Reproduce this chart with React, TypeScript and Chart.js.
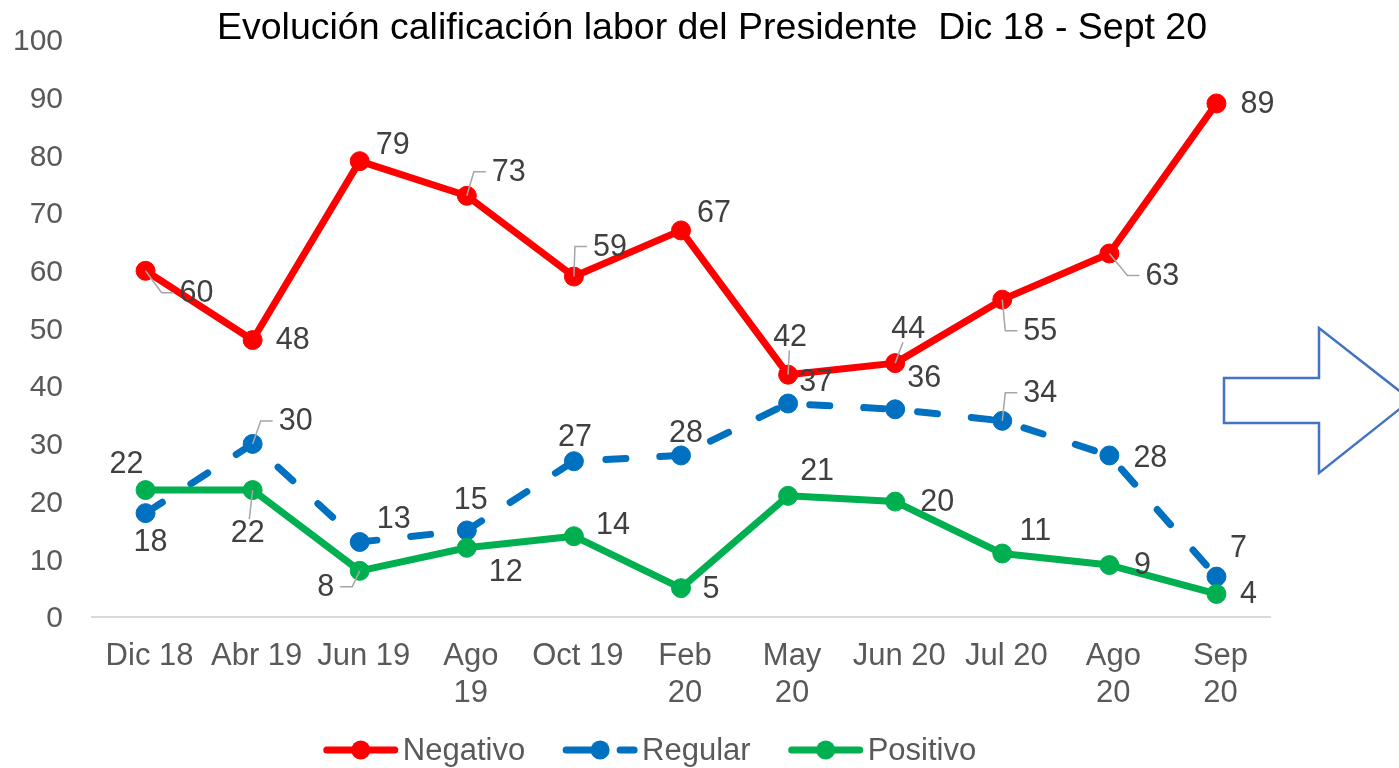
import React, { useEffect, useRef } from "react";
import { Chart, registerables } from "chart.js";

Chart.register(...registerables);

// ---------- data ----------
const CATEGORIES: (string | string[])[] = [
  "Dic 18",
  "Abr 19",
  "Jun 19",
  ["Ago", "19"],
  "Oct 19",
  ["Feb", "20"],
  ["May", "20"],
  "Jun 20",
  "Jul 20",
  ["Ago", "20"],
  ["Sep", "20"],
];
const NEGATIVO = [60, 48, 79, 73, 59, 67, 42, 44, 55, 63, 89];
const REGULAR = [18, 30, 13, 15, 27, 28, 37, 36, 34, 28, 7];
const POSITIVO = [22, 22, 8, 12, 14, 5, 21, 20, 11, 9, 4];
const SERIES_NAMES = ["Negativo", "Regular", "Positivo"];
const Y_MIN = 0;
const Y_MAX = 100;
const Y_STEP = 10;
const TITLE = "Evolución calificación labor del Presidente  Dic 18 - Sept 20";

// ---------- label placement (pixel offsets from the point, leader flag) ----------
const NEG_LABEL_POS = [[51, 22, 1], [40, 0, 0], [33, -17, 0], [42, -24, 1], [36, -30, 1], [33, -18, 0], [2, -38, 1], [13, -35, 1], [38, 31, 1], [53, 22, 1], [41, 0, 0]];
const REG_LABEL_POS = [[5, 28, 0], [43, -23, 1], [34, -23, 0], [4, -31, 0], [1, -25, 0], [5, -23, 0], [28, -22, 0], [29, -32, 0], [38, -28, 1], [41, 2, 0], [22, -29, 0]];
const POS_LABEL_POS = [[-19, -26, 0], [-5, 43, 1], [-34, 16, 1], [39, 24, 0], [39, -12, 0], [30, 0, 0], [29, -25, 0], [42, 0, 0], [33, -23, 0], [33, 0, 0], [32, 0, 0]];

// ---------- styles ----------
const RED = "#FF0000";
const BLUE = "#0070C0";
const GREEN = "#00B050";
const FONT = "'Liberation Sans', Arial, sans-serif";
const TICK_COLOR = "#595959";
const LABEL_COLOR = "#404040";
const LEADER_COLOR = "#A6A6A6";
const DASH = [20, 34];

const customPlugin = {
  id: "custom",
  afterDatasetsDraw(chart: any) {
    const ctx = chart.ctx;
    const placements = [NEG_LABEL_POS, REG_LABEL_POS, POS_LABEL_POS];
    ctx.save();
    ctx.font = `30.5px ${FONT}`;
    ctx.textAlign = "center";
    ctx.textBaseline = "middle";
    chart.data.datasets.forEach((ds: any, di: number) => {
      const meta = chart.getDatasetMeta(di);
      meta.data.forEach((pt: any, i: number) => {
        const [dx, dy, leader] = placements[di][i];
        const px = pt.x;
        const py = pt.y;
        const lx = px + dx;
        const ly = py + dy;
        const text = String(ds.data[i]);
        const tw = ctx.measureText(text).width;
        const th = 22;
        if (leader) {
          ctx.strokeStyle = LEADER_COLOR;
          ctx.lineWidth = 1.5;
          ctx.beginPath();
          ctx.moveTo(px, py);
          if (Math.abs(dx) > 25) {
            const side = dx > 0 ? -1 : 1;
            const edge = lx + side * (tw / 2 + 6);
            const corner = edge + side * 12;
            ctx.lineTo(corner, ly);
            ctx.lineTo(edge, ly);
          } else {
            const edgeY = ly - Math.sign(dy) * (th / 2 + 3);
            const t = (edgeY - py) / dy;
            ctx.lineTo(px + dx * t, edgeY);
          }
          ctx.stroke();
        }
        ctx.fillStyle = LABEL_COLOR;
        ctx.fillText(text, lx, ly + 1);
      });
    });
    ctx.restore();
  },
  afterDraw(chart: any) {
    const ctx = chart.ctx;
    ctx.save();
    // title
    ctx.font = `37.5px ${FONT}`;
    ctx.fillStyle = "#000000";
    ctx.textAlign = "center";
    ctx.textBaseline = "middle";
    ctx.fillText(TITLE, 712, 29);

    // legend
    ctx.font = `31px ${FONT}`;
    const lineW = 74;
    const gapText = 5;
    const gapItem = 38;
    const items = chart.data.datasets.map((ds: any) => ({
      text: ds.label,
      color: ds.borderColor,
      dashed: !!ds.borderDash,
      w: ctx.measureText(ds.label).width,
    }));
    const total = items.reduce((s: number, it: any) => s + lineW + gapText + it.w, 0) + gapItem * (items.length - 1);
    let x = 650 - total / 2;
    const y = 750;
    items.forEach((it: any) => {
      ctx.strokeStyle = it.color;
      ctx.lineWidth = 7;
      ctx.lineCap = "round";
      ctx.setLineDash(it.dashed ? [36, 18] : []);
      ctx.beginPath();
      ctx.moveTo(x + 3, y);
      ctx.lineTo(x + lineW - 3, y);
      ctx.stroke();
      ctx.setLineDash([]);
      ctx.fillStyle = it.color;
      ctx.beginPath();
      ctx.arc(x + lineW / 2, y, 9.5, 0, Math.PI * 2);
      ctx.fill();
      ctx.fillStyle = TICK_COLOR;
      ctx.textAlign = "left";
      ctx.fillText(it.text, x + lineW + gapText, y + 1);
      x += lineW + gapText + it.w + gapItem;
    });
    ctx.restore();
  },
};

export default function App() {
  const ref = useRef<HTMLCanvasElement | null>(null);

  useEffect(() => {
    document.body.style.margin = "0";
    const canvas = ref.current;
    if (!canvas) return;
    const mk = (label: string, data: number[], color: string, order: number, dashed: boolean) => ({
      label,
      data,
      borderColor: color,
      backgroundColor: color,
      borderWidth: 7,
      borderDash: dashed ? DASH : undefined,
      borderCapStyle: dashed ? "round" : "butt",
      borderJoinStyle: "round",
      pointRadius: 9.5,
      pointBorderWidth: 1,
      pointBackgroundColor: color,
      pointBorderColor: color,
      tension: 0,
      order,
      clip: false,
    });
    const chart = new Chart(canvas, {
      type: "line",
      data: {
        labels: CATEGORIES as any,
        datasets: [
          mk(SERIES_NAMES[0], NEGATIVO, RED, 2, false),
          mk(SERIES_NAMES[1], REGULAR, BLUE, 1, true),
          mk(SERIES_NAMES[2], POSITIVO, GREEN, 0, false),
        ] as any,
      },
      options: {
        responsive: false,
        animation: false,
        devicePixelRatio: 1,
        layout: { padding: { top: 40, left: 13, right: 129, bottom: 59 } },
        plugins: {
          legend: { display: false },
          title: { display: false },
          tooltip: { enabled: false },
        },
        scales: {
          x: {
            offset: true,
            grid: { display: false, drawTicks: false },
            border: { display: true, color: "#D9D9D9", width: 2 },
            ticks: {
              color: TICK_COLOR,
              font: { family: FONT, size: 31 },
              padding: 21,
              labelOffset: 4,
              maxRotation: 0,
              autoSkip: false,
            },
            afterFit: (scale: any) => {
              scale.height = 92;
            },
          },
          y: {
            min: Y_MIN,
            max: Y_MAX,
            grid: { display: false, drawTicks: false },
            border: { display: false },
            ticks: {
              stepSize: Y_STEP,
              color: TICK_COLOR,
              font: { family: FONT, size: 30 },
              padding: 29,
              labelOffset: 2,
            },
            afterFit: (scale: any) => {
              scale.width = 79;
              scale.paddingTop = 0;
              scale.paddingBottom = 0;
            },
          },
        },
      },
      plugins: [customPlugin],
    });
    return () => chart.destroy();
  }, []);

  return (
    <div style={{ position: "relative", width: 1399, height: 768, overflow: "hidden", background: "#fff" }}>
      <canvas ref={ref} width={1399} height={768} style={{ display: "block" }} />
      <svg
        width={1399}
        height={768}
        style={{ position: "absolute", left: 0, top: 0, pointerEvents: "none" }}
      >
        <polygon
          points="1224,378 1319,378 1319,328 1411,400 1319,473 1319,423 1224,423"
          fill="none"
          stroke="#4472C4"
          strokeWidth={2.5}
        />
      </svg>
    </div>
  );
}
